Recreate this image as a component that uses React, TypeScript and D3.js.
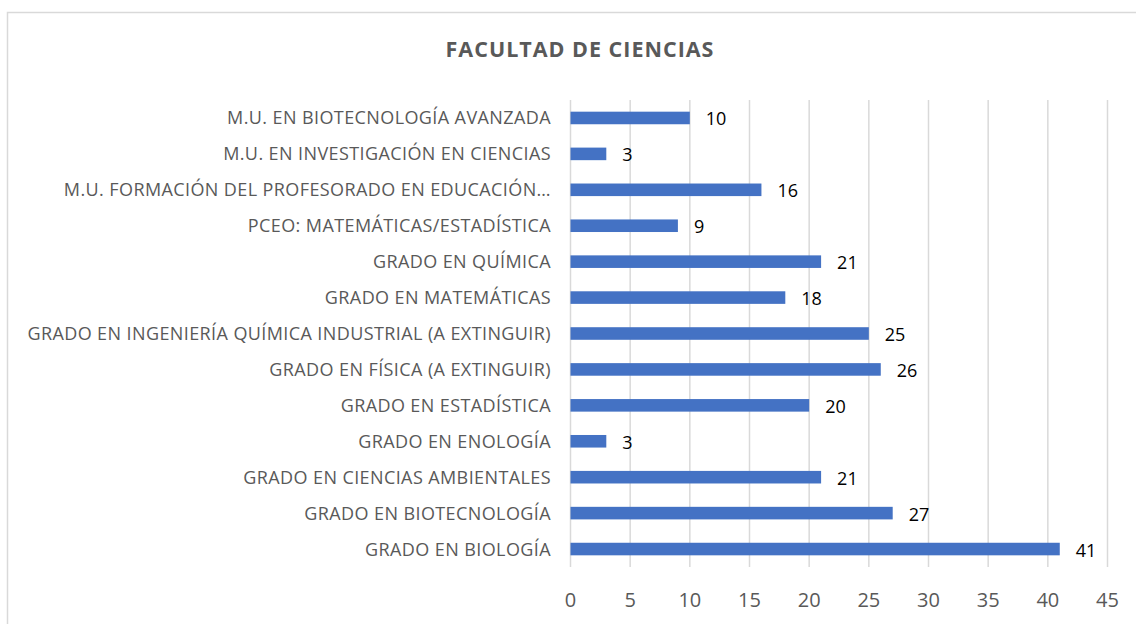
import React, { useEffect, useRef } from "react";
import * as d3 from "d3";

const categories: string[] = [
  "M.U. EN BIOTECNOLOGÍA AVANZADA",
  "M.U. EN INVESTIGACIÓN EN CIENCIAS",
  "M.U. FORMACIÓN DEL PROFESORADO EN EDUCACIÓN…",
  "PCEO: MATEMÁTICAS/ESTADÍSTICA",
  "GRADO EN QUÍMICA",
  "GRADO EN MATEMÁTICAS",
  "GRADO EN INGENIERÍA QUÍMICA INDUSTRIAL (A EXTINGUIR)",
  "GRADO EN FÍSICA (A EXTINGUIR)",
  "GRADO EN ESTADÍSTICA",
  "GRADO EN ENOLOGÍA",
  "GRADO EN CIENCIAS AMBIENTALES",
  "GRADO EN BIOTECNOLOGÍA",
  "GRADO EN BIOLOGÍA",
];
const values: number[] = [10, 3, 16, 9, 21, 18, 25, 26, 20, 3, 21, 27, 41];
const xTicks: number[] = [0, 5, 10, 15, 20, 25, 30, 35, 40, 45];
const title = "FACULTAD DE CIENCIAS";

const W = 1136;
const H = 624;
const FONT = "'Open Sans', Lato, sans-serif";

export default function App() {
  const ref = useRef<SVGSVGElement>(null);
  useEffect(() => {
    const svg = d3.select(ref.current);
    svg.selectAll("*").remove();

    svg.append("rect").attr("x", 7.5).attr("y", 12.5).attr("width", 1140).attr("height", 640)
      .attr("fill", "#fff").attr("stroke", "#d9d9d9").attr("stroke-width", 1.5);

    const x = d3.scaleLinear().domain([0, 45]).range([570.5, 1107.5]);
    const y = d3.scaleBand().domain(categories).range([100, 567]).paddingInner(0.65).paddingOuter(0.325);

    svg.append("text").attr("x", 580).attr("y", 57).attr("text-anchor", "middle")
      .attr("font-family", FONT).attr("font-weight", "bold").attr("font-size", 21.5)
      .attr("letter-spacing", 1)
      .attr("fill", "#595959").text(title);

    svg.append("g").selectAll("line").data(xTicks).join("line")
      .attr("x1", d => x(d)).attr("x2", d => x(d)).attr("y1", 100).attr("y2", 567)
      .attr("stroke", "#d9d9d9").attr("stroke-width", 1.5);

    svg.append("g").selectAll("text").data(xTicks).join("text")
      .attr("x", d => x(d)).attr("y", 606.5).attr("text-anchor", "middle")
      .attr("font-family", FONT).attr("font-size", 20).attr("fill", "#595959")
      .text(d => String(d));

    svg.append("g").selectAll("text").data(categories).join("text")
      .attr("x", 551).attr("y", d => (y(d) as number) + y.bandwidth() / 2).attr("dy", "0.36em")
      .attr("text-anchor", "end").attr("font-family", FONT).attr("font-size", 18)
      .attr("letter-spacing", 0.4)
      .attr("fill", "#595959").text(d => d);

    svg.append("g").selectAll("rect").data(values).join("rect")
      .attr("x", x(0)).attr("y", (_, i) => y(categories[i]) as number)
      .attr("width", d => x(d) - x(0)).attr("height", y.bandwidth())
      .attr("fill", "#4472C4");

    svg.append("g").selectAll("text").data(values).join("text")
      .attr("x", d => x(d) + 16).attr("y", (_, i) => (y(categories[i]) as number) + y.bandwidth() / 2 + 1)
      .attr("dy", "0.36em").attr("font-family", FONT).attr("font-size", 18).attr("fill", "#000")
      .text(d => String(d));
  }, []);
  return (
    <svg ref={ref} width={W} height={H} style={{ position: "absolute", left: 0, top: 0, display: "block" }} />
  );
}
